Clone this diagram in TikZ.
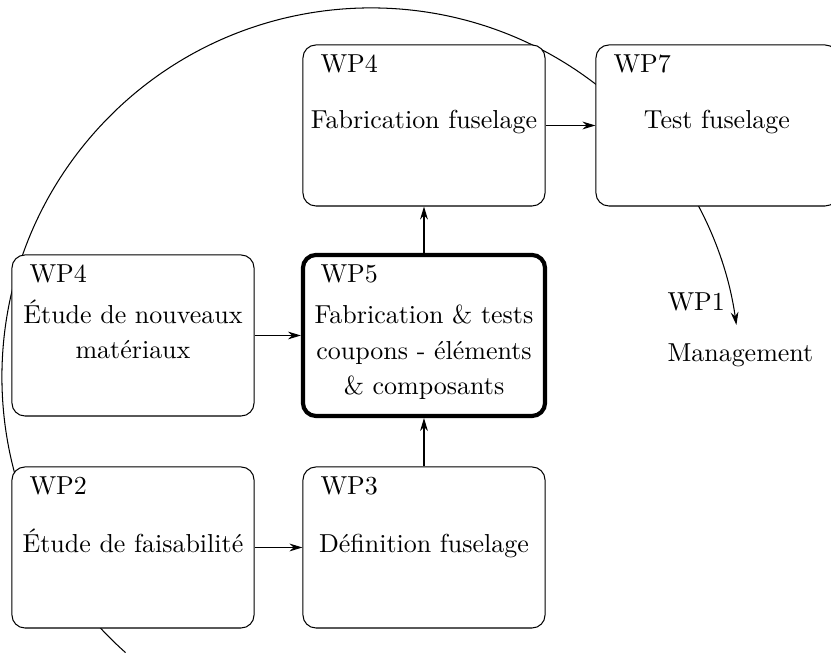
\documentclass[tikz,border=0pt]{standalone}
\usetikzlibrary{arrows.meta}
\begin{document}
\begin{tikzpicture}[x=0.385pt, y=0.385pt,
  wpbox/.style={draw, rounded corners=5pt, fill=white, minimum width=93.2pt, minimum height=62pt, inner sep=0pt, line width=0.4pt},
  mainbox/.style={wpbox, line width=1.6pt},
  wplabel/.style={anchor=base west, inner sep=0pt},
  wptext/.style={anchor=base, inner sep=0pt, align=center, font=\fontsize{10}{13.7}\selectfont},
  flow/.style={-{Stealth[length=5pt,width=3pt]}, line width=0.4pt}
]
\useasboundingbox (0,0) rectangle (831,653);
\coordinate (ctr) at (371,276);
\draw[flow] (ctr) ++(228.3:142.1pt) arc[start angle=228.3, end angle=8.1, radius=142.1pt];

\node[wpbox] (fab) at (424,527.5) {};
\node[wpbox] (test) at (717,527.5) {};
\node[wpbox] (mat) at (133,317.5) {};
\node[mainbox] (coup) at (424,317.5) {};
\node[wpbox] (fais) at (133,105.5) {};
\node[wpbox] (def) at (424,105.5) {};

\node[wplabel] (fabwp) at (320,580) {WP4};
\node[wptext] (fabtx) at (424,524) {Fabrication fuselage};
\node[wplabel] (testwp) at (613,580) {WP7};
\node[wptext] (testtx) at (717,524) {Test fuselage};
\node[wplabel] (matwp) at (29,370) {WP4};
\node[wptext] (mattx) at (133,294) {Étude de nouveaux\\matériaux};
\node[wplabel] (coupwp) at (320,370) {WP5};
\node[wptext] (couptx) at (424,258) {Fabrication \& tests\\coupons - éléments\\\& composants};
\node[wplabel] (faiswp) at (29,158) {WP2};
\node[wptext] (faistx) at (133,100) {Étude de faisabilité};
\node[wplabel] (defwp) at (320,158) {WP3};
\node[wptext] (deftx) at (424,100) {Définition fuselage};
\node[wplabel] (mgwp) at (667,342) {WP1};
\node[wplabel] (mgtx) at (667,291) {Management};

\draw[flow] (fab.east) -- (test.west);
\draw[flow] (coup.north) -- (fab.south);
\draw[flow] (def.north) -- (coup.south);
\draw[flow] (mat.east) -- (coup.west);
\draw[flow] (fais.east) -- (def.west);
\end{tikzpicture}
\end{document}
